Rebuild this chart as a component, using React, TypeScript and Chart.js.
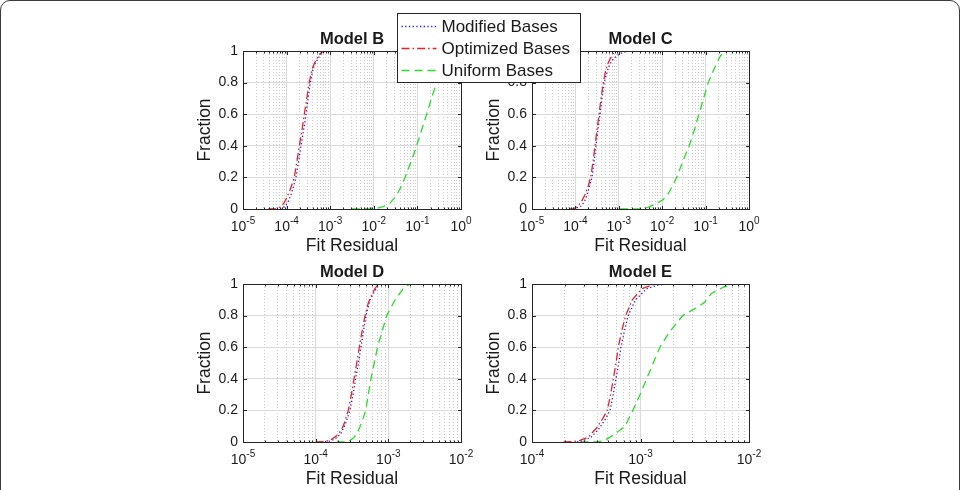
import React, { useEffect, useRef } from "react";
import { Chart, registerables } from "chart.js";

Chart.register(...registerables);

const FONT = '"Liberation Sans", Arial, Helvetica, sans-serif';
const INK = "#1a1a1a";

// Cumulative fraction of fits below a given residual: [fit residual, fraction]
const modelBModified = [
  [7.1e-5, 0], [8.2e-5, 0.008], [9.5e-5, 0.02], [1.1e-4, 0.05], [1.3e-4, 0.1],
  [1.64e-4, 0.2], [1.88e-4, 0.3], [2.14e-4, 0.4], [2.45e-4, 0.5], [2.79e-4, 0.6],
  [3.12e-4, 0.7], [3.5e-4, 0.8], [4.0e-4, 0.88], [4.5e-4, 0.92], [5.2e-4, 0.95],
  [6.1e-4, 0.98], [7.6e-4, 1], [8.5e-4, 1],
];
const modelBOptimized = [
  [3.8e-5, 0], [5.4e-5, 0], [6.5e-5, 0.005], [7.7e-5, 0.02], [8.8e-5, 0.04],
  [1.0e-4, 0.07], [1.2e-4, 0.12], [1.5e-4, 0.2], [1.72e-4, 0.3], [1.96e-4, 0.4],
  [2.25e-4, 0.5], [2.55e-4, 0.6], [2.9e-4, 0.7], [3.3e-4, 0.8], [3.8e-4, 0.88],
  [4.3e-4, 0.92], [4.9e-4, 0.95], [5.7e-4, 0.98], [7.0e-4, 1], [8.3e-4, 1],
];
const modelBUniform = [
  [3.1e-3, 0], [8e-3, 0], [1.2e-2, 0.005], [1.65e-2, 0.015], [2.35e-2, 0.036],
  [3.35e-2, 0.089], [4.2e-2, 0.14], [5.2e-2, 0.2], [6.5e-2, 0.27], [8.1e-2, 0.34],
  [9.6e-2, 0.4], [1.25e-1, 0.5], [1.63e-1, 0.6], [2.1e-1, 0.7], [2.75e-1, 0.8],
  [3.5e-1, 0.88], [4.3e-1, 0.94], [5.5e-1, 0.98], [7e-1, 1],
];

const modelCModified = [
  [8.9e-5, 0], [1.1e-4, 0.008], [1.4e-4, 0.02], [1.7e-4, 0.06], [2.0e-4, 0.12],
  [2.41e-4, 0.2], [2.7e-4, 0.3], [2.98e-4, 0.4], [3.3e-4, 0.5], [3.69e-4, 0.6],
  [4.1e-4, 0.7], [4.6e-4, 0.8], [5.8e-4, 0.9], [7e-4, 0.94], [8.9e-4, 0.97],
  [1.2e-3, 0.99], [1.8e-3, 1], [2.0e-3, 1],
];
const modelCOptimized = [
  [7.2e-5, 0], [9e-5, 0.003], [1.05e-4, 0.01], [1.17e-4, 0.02], [1.4e-4, 0.05],
  [1.66e-4, 0.09], [1.95e-4, 0.14], [2.25e-4, 0.2], [2.55e-4, 0.3], [2.83e-4, 0.4],
  [3.15e-4, 0.5], [3.5e-4, 0.6], [3.9e-4, 0.7], [4.4e-4, 0.8], [5.0e-4, 0.88],
  [5.6e-4, 0.92], [6.3e-4, 0.95], [7.2e-4, 0.98], [8.5e-4, 1], [1.45e-3, 1],
];
const modelCUniform = [
  [1.07e-3, 0], [3e-3, 0], [4.4e-3, 0.008], [6.2e-3, 0.025], [8e-3, 0.04],
  [1.06e-2, 0.06], [1.4e-2, 0.1], [1.75e-2, 0.15], [2.16e-2, 0.2], [2.7e-2, 0.27],
  [3.4e-2, 0.34], [4.2e-2, 0.4], [5.5e-2, 0.5], [7.0e-2, 0.6], [9e-2, 0.7],
  [1.15e-1, 0.8], [1.65e-1, 0.9], [2.2e-1, 0.97], [2.8e-1, 1], [4.4e-1, 1],
];

const modelDModified = [
  [1.2e-4, 0], [1.55e-4, 0.005], [1.85e-4, 0.02], [2.2e-4, 0.05], [2.55e-4, 0.11],
  [2.96e-4, 0.2], [3.27e-4, 0.3], [3.55e-4, 0.4], [3.87e-4, 0.5], [4.2e-4, 0.6],
  [4.55e-4, 0.7], [4.93e-4, 0.8], [5.6e-4, 0.9], [6.4e-4, 0.95], [7.0e-4, 0.98],
  [7.7e-4, 1], [9e-4, 1],
];
const modelDOptimized = [
  [1.0e-4, 0], [1.3e-4, 0.003], [1.57e-4, 0.01], [1.94e-4, 0.04], [2.2e-4, 0.07],
  [2.4e-4, 0.1], [2.81e-4, 0.2], [3.1e-4, 0.3], [3.37e-4, 0.4], [3.67e-4, 0.5],
  [3.99e-4, 0.6], [4.35e-4, 0.7], [4.78e-4, 0.8], [5.3e-4, 0.88], [5.9e-4, 0.93],
  [6.5e-4, 0.97], [7.3e-4, 1], [1.0e-3, 1],
];
const modelDUniform = [
  [1.95e-4, 0], [2.67e-4, 0], [2.96e-4, 0.01], [3.3e-4, 0.025], [3.67e-4, 0.05],
  [4.1e-4, 0.1], [4.5e-4, 0.15], [4.88e-4, 0.2], [5.3e-4, 0.3], [5.77e-4, 0.4],
  [6.4e-4, 0.5], [7.1e-4, 0.6], [8.2e-4, 0.7], [9.5e-4, 0.8], [1.24e-3, 0.9],
  [1.6e-3, 0.97], [1.98e-3, 1], [3.2e-3, 1],
];

const modelEModified = [
  [2.6e-4, 0], [3.0e-4, 0.01], [3.5e-4, 0.03], [4.1e-4, 0.08], [4.7e-4, 0.14],
  [5.24e-4, 0.2], [5.6e-4, 0.3], [5.94e-4, 0.4], [6.3e-4, 0.5], [6.6e-4, 0.6],
  [7.1e-4, 0.7], [7.7e-4, 0.8], [9.0e-4, 0.9], [1.14e-3, 0.97], [1.4e-3, 0.99],
  [1.68e-3, 1],
];
const modelEOptimized = [
  [1.95e-4, 0], [2.4e-4, 0.002], [2.77e-4, 0.01], [3.3e-4, 0.03], [3.95e-4, 0.09],
  [4.5e-4, 0.15], [4.94e-4, 0.2], [5.3e-4, 0.3], [5.62e-4, 0.4], [5.95e-4, 0.5],
  [6.24e-4, 0.6], [6.7e-4, 0.7], [7.3e-4, 0.8], [8.4e-4, 0.9], [1.03e-3, 0.97],
  [1.36e-3, 1], [1.6e-3, 1],
];
const modelEUniform = [
  [2.8e-4, 0], [4e-4, 0], [4.7e-4, 0.01], [5.8e-4, 0.05], [7.2e-4, 0.1],
  [8.5e-4, 0.2], [9.9e-4, 0.3], [1.14e-3, 0.4], [1.31e-3, 0.5], [1.51e-3, 0.6],
  [1.87e-3, 0.7], [2.45e-3, 0.8], [3.0e-3, 0.835], [3.4e-3, 0.855], [3.9e-3, 0.885],
  [4.5e-3, 0.94], [5.8e-3, 0.98], [7.4e-3, 1], [1e-2, 1],
];

const seriesLabels = ["Modified Bases", "Optimized Bases", "Uniform Bases"];
const yTickValues = [0, 0.2, 0.4, 0.6, 0.8, 1];
const minorSteps = [2, 3, 4, 5, 6, 7, 8, 9];
const decadesTop = [-5, -4, -3, -2, -1, 0];
const decadesD = [-5, -4, -3, -2];
const decadesE = [-4, -3, -2];

const seriesStyles = [
  { color: "rgb(35,35,235)", dash: [1.3, 2.4], order: 1 },
  { color: "rgb(236,34,38)", dash: [8, 3, 1.6, 3], order: 0 },
  { color: "rgb(40,222,40)", dash: [8, 5], order: 2 },
];

type Box = { left: number; top: number; right: number; bottom: number };
type Panel = {
  title: string;
  decades: number[];
  series: number[][][];
  box: Box;
  legend?: boolean;
};

const panels: Panel[] = [
  { title: "Model B", decades: decadesTop, series: [modelBModified, modelBOptimized, modelBUniform], box: { left: 243, top: 51, right: 461, bottom: 209 }, legend: true },
  { title: "Model C", decades: decadesTop, series: [modelCModified, modelCOptimized, modelCUniform], box: { left: 532, top: 51, right: 749, bottom: 209 } },
  { title: "Model D", decades: decadesD, series: [modelDModified, modelDOptimized, modelDUniform], box: { left: 243, top: 284, right: 461, bottom: 442 } },
  { title: "Model E", decades: decadesE, series: [modelEModified, modelEOptimized, modelEUniform], box: { left: 532, top: 284, right: 749, bottom: 442 } },
];

const W = 960;
const H = 490;
const Y_AXIS_W = 48.5;
const X_AXIS_H = 48;
const LEGEND = { left: 397, top: 13, width: 183, height: 69, row: 22 };

function logTicks(decades: number[]) {
  const out: { value: number; major: boolean }[] = [];
  for (let i = 0; i < decades.length - 1; i++) {
    const base = Math.pow(10, decades[i]);
    out.push({ value: base, major: true });
    minorSteps.forEach((k) => out.push({ value: k * base, major: false }));
  }
  out.push({ value: Math.pow(10, decades[decades.length - 1]), major: true });
  return out;
}

function line(ctx: CanvasRenderingContext2D, x1: number, y1: number, x2: number, y2: number) {
  ctx.beginPath();
  ctx.moveTo(x1, y1);
  ctx.lineTo(x2, y2);
  ctx.stroke();
}

// Axes box, inward ticks, power-of-ten labels and the panel title
const decorPlugin = (panel: Panel) => ({
  id: "panelDecor",
  afterDraw(chart: any) {
    const { ctx, chartArea: a, scales } = chart;
    const xs = scales.x;
    const ys = scales.y;
    const L = Math.round(a.left) + 0.5;
    const R = Math.round(a.right) + 0.5;
    const T = Math.round(a.top) + 0.5;
    const B = Math.round(a.bottom) + 0.5;
    ctx.save();
    ctx.strokeStyle = "#262626";
    ctx.lineWidth = 1;
    ctx.setLineDash([]);
    xs.ticks.forEach((t: any) => {
      const px = Math.round(xs.getPixelForValue(t.value)) + 0.5;
      const len = t.major ? 3.5 : 2;
      line(ctx, px, B, px, B - len);
      line(ctx, px, T, px, T + len);
    });
    ys.ticks.forEach((t: any) => {
      const py = Math.round(ys.getPixelForValue(t.value)) + 0.5;
      line(ctx, L, py, L + 3.5, py);
      line(ctx, R, py, R - 3.5, py);
    });
    ctx.strokeRect(L, T, R - L, B - T);

    ctx.fillStyle = INK;
    ctx.textBaseline = "alphabetic";
    ctx.textAlign = "left";
    xs.ticks.filter((t: any) => t.major).forEach((t: any) => {
      const px = xs.getPixelForValue(t.value);
      const exp = String(Math.round(Math.log10(t.value)));
      ctx.font = `14px ${FONT}`;
      const wb = ctx.measureText("10").width;
      ctx.font = `10px ${FONT}`;
      const we = ctx.measureText(exp).width;
      const x0 = px - (wb + we) / 2;
      ctx.font = `14px ${FONT}`;
      ctx.fillText("10", x0, a.bottom + 21.5);
      ctx.font = `10px ${FONT}`;
      ctx.fillText(exp, x0 + wb, a.bottom + 14.5);
    });

    ctx.font = `bold 16.5px ${FONT}`;
    ctx.textAlign = "center";
    ctx.fillText(panel.title, (a.left + a.right) / 2, a.top - 7.5);
    ctx.restore();
  },
});

// Shared legend box, drawn from the chart's own datasets
const legendPlugin = {
  id: "sharedLegend",
  afterDraw(chart: any) {
    const { ctx } = chart;
    ctx.save();
    const x = LEGEND.left + 0.5;
    const y = LEGEND.top + 0.5;
    ctx.fillStyle = "#ffffff";
    ctx.fillRect(x, y, LEGEND.width, LEGEND.height);
    ctx.strokeStyle = "#262626";
    ctx.lineWidth = 1;
    ctx.setLineDash([]);
    ctx.strokeRect(x, y, LEGEND.width, LEGEND.height);
    chart.data.datasets.forEach((ds: any, i: number) => {
      const ry = LEGEND.top + 13 + i * LEGEND.row;
      ctx.strokeStyle = ds.borderColor;
      ctx.lineWidth = ds.borderWidth;
      ctx.setLineDash(ds.borderDash);
      line(ctx, LEGEND.left + 4.5, ry + 0.5, LEGEND.left + 39.5, ry + 0.5);
      ctx.setLineDash([]);
      ctx.fillStyle = INK;
      ctx.font = `17px ${FONT}`;
      ctx.textBaseline = "middle";
      ctx.textAlign = "left";
      ctx.fillText(ds.label, LEGEND.left + 44.5, ry + 1);
    });
    ctx.restore();
  },
};

function buildConfig(panel: Panel): any {
  const { box, decades } = panel;
  const xTicks = logTicks(decades);
  return {
    type: "line",
    data: {
      datasets: panel.series.map((pts, i) => ({
        label: seriesLabels[i],
        data: pts.map(([x, y]) => ({ x, y })),
        borderColor: seriesStyles[i].color,
        borderDash: seriesStyles[i].dash,
        borderWidth: 1.3,
        order: seriesStyles[i].order,
        pointRadius: 0,
        fill: false,
        tension: 0,
      })),
    },
    options: {
      responsive: false,
      maintainAspectRatio: false,
      animation: false,
      events: [],
      layout: {
        padding: {
          left: box.left - Y_AXIS_W,
          top: box.top,
          right: W - box.right,
          bottom: H - box.bottom - X_AXIS_H,
        },
      },
      plugins: { legend: { display: false }, tooltip: { enabled: false }, title: { display: false } },
      scales: {
        x: {
          type: "logarithmic",
          min: Math.pow(10, decades[0]),
          max: Math.pow(10, decades[decades.length - 1]),
          afterBuildTicks: (s: any) => {
            s.ticks = xTicks.map((t) => ({ ...t }));
          },
          afterFit: (s: any) => {
            s.height = X_AXIS_H;
          },
          ticks: { display: false },
          grid: {
            drawTicks: false,
            lineWidth: 1,
            color: (c: any) => (c.tick && c.tick.major ? "#dadada" : "#cbcbcb"),
          },
          border: {
            display: false,
            dash: (c: any) => (c.tick && c.tick.major ? [] : [1, 2]),
          },
          title: {
            display: true,
            text: "Fit Residual",
            color: INK,
            font: { family: FONT, size: 17.5 },
            padding: 0,
          },
        },
        y: {
          type: "linear",
          min: 0,
          max: 1,
          afterBuildTicks: (s: any) => {
            s.ticks = yTickValues.map((v) => ({ value: v }));
          },
          afterFit: (s: any) => {
            s.width = Y_AXIS_W;
          },
          ticks: {
            color: INK,
            font: { family: FONT, size: 14 },
            padding: 5,
            callback: (v: any) => String(v),
          },
          grid: { drawTicks: false, lineWidth: 1, color: "#dadada" },
          border: { display: false },
          title: {
            display: true,
            text: "Fraction",
            color: INK,
            font: { family: FONT, size: 17.5 },
            padding: 0,
          },
        },
      },
    },
    plugins: panel.legend ? [decorPlugin(panel), legendPlugin] : [decorPlugin(panel)],
  };
}

function PanelChart({ panel }: { panel: Panel }) {
  const ref = useRef<HTMLCanvasElement | null>(null);
  useEffect(() => {
    if (!ref.current) return;
    const chart = new Chart(ref.current, buildConfig(panel));
    return () => chart.destroy();
  }, [panel]);
  return (
    <canvas
      ref={ref}
      width={W}
      height={H}
      style={{ position: "absolute", left: 0, top: 0, width: W, height: H, zIndex: panel.legend ? 2 : 1 }}
    />
  );
}

export default function App() {
  Chart.defaults.font.family = FONT;
  return (
    <div style={{ position: "absolute", left: 0, top: 0, width: W, height: H, overflow: "hidden", background: "#fff" }}>
      <div
        style={{
          position: "absolute",
          left: 0,
          top: 0,
          width: W,
          height: H + 30,
          boxSizing: "border-box",
          border: "1px solid #3a3a3a",
          borderRadius: 10,
        }}
      />
      {panels.map((p) => (
        <PanelChart key={p.title} panel={p} />
      ))}
    </div>
  );
}
